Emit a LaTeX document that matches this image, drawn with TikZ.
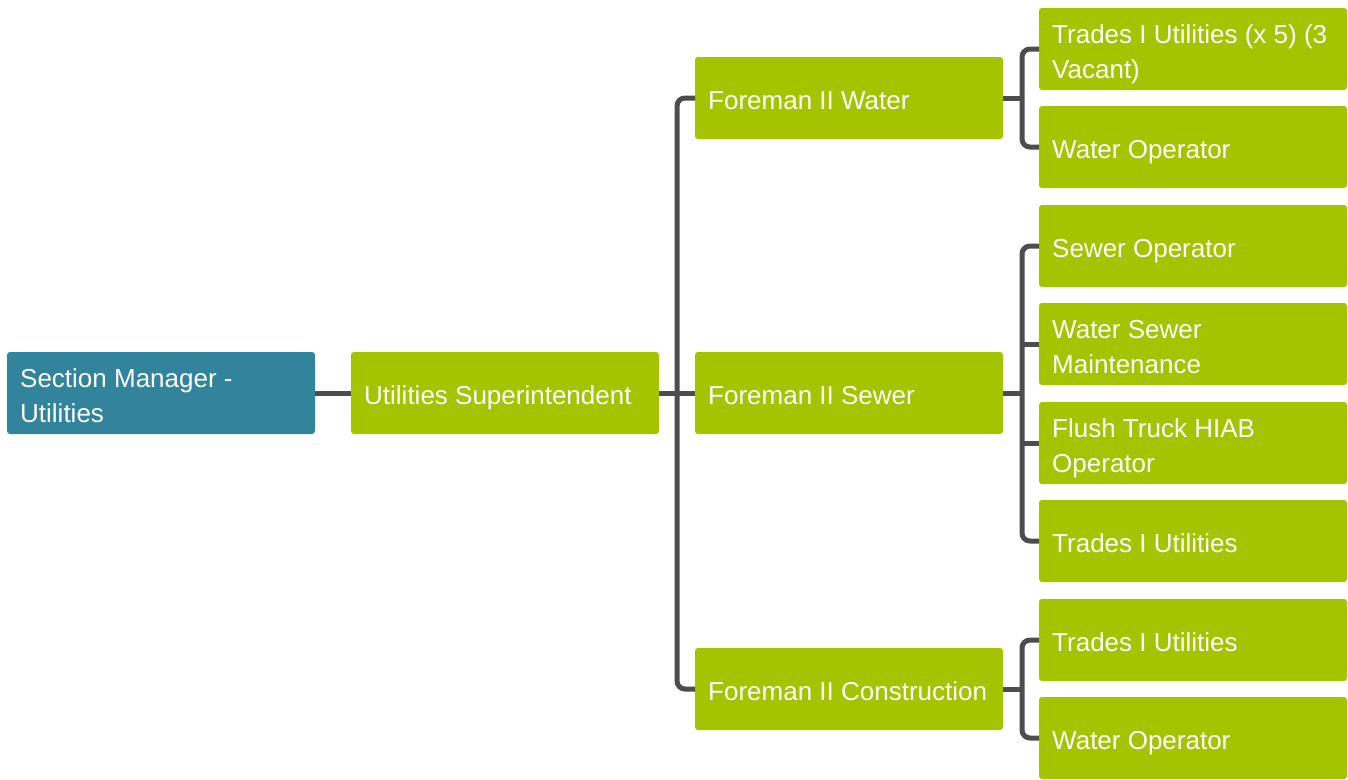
\documentclass[tikz,border=0pt]{standalone}
\usepackage{fontspec}
\setmainfont{Liberation Sans}
\definecolor{teal1}{HTML}{31849B}
\definecolor{green1}{HTML}{A5C400}
\definecolor{conncol}{HTML}{4D4D4D}
\newcommand{\myboxfont}{\fontsize{19.5pt}{26.25pt}\selectfont}
\begin{document}
\begin{tikzpicture}[x=0.75pt,y=-0.75pt,
  box/.style={rectangle, rounded corners=2.25pt, anchor=north west,
    minimum width=231pt, minimum height=61.5pt, inner sep=0pt, outer sep=0pt},
  gbox/.style={box, fill=green1},
  tbox/.style={box, fill=teal1},
  boxtext/.style={anchor=west, inner sep=0pt, outer sep=0pt, xshift=9.9pt, yshift=-1.9pt,
    align=left, text=white, text depth=0pt, font=\myboxfont},
  conn/.style={draw=conncol, line width=3.75pt, rounded corners=6pt}]
\useasboundingbox (0,0) rectangle (1348,779);
% boxes
\node[tbox, label={[boxtext]west:{Section Manager -\\Utilities}}] (sm) at (7,352) {};
\node[gbox, label={[boxtext]west:{Utilities Superintendent}}] (us) at (351,352) {};
\node[gbox, label={[boxtext]west:{Foreman II Water}}] (fw) at (695,57) {};
\node[gbox, label={[boxtext]west:{Foreman II Sewer}}] (fs) at (695,352) {};
\node[gbox, label={[boxtext]west:{Foreman II Construction}}] (fc) at (695,648) {};
\node[gbox, label={[boxtext]west:{Trades I Utilities (x 5) (3\\Vacant)}}] (tu1) at (1039,8) {};
\node[gbox, label={[boxtext]west:{Water Operator}}] (wo1) at (1039,106) {};
\node[gbox, label={[boxtext]west:{Sewer Operator}}] (so) at (1039,205) {};
\node[gbox, label={[boxtext]west:{Water Sewer\\Maintenance}}] (wsm) at (1039,303) {};
\node[gbox, label={[boxtext]west:{Flush Truck HIAB\\Operator}}] (ft) at (1039,402) {};
\node[gbox, label={[boxtext]west:{Trades I Utilities}}] (tu2) at (1039,500) {};
\node[gbox, label={[boxtext]west:{Trades I Utilities}}] (tu3) at (1039,599) {};
\node[gbox, label={[boxtext]west:{Water Operator}}] (wo2) at (1039,697) {};
% connectors
\draw[conn] (sm.east) -- (us.west);
\draw[conn] (us.east) -- (fs.west);
\draw[conn] (fw.west) -- ++(-18,0) |- (fc.west);
\coordinate (wx) at ([xshift=-12.75pt]tu1.west);
\draw[conn] (tu1.west) -- (wx) |- (wo1.west);
\draw[conn] (fw.east) -- (fw.east -| wx);
\coordinate (sx) at ([xshift=-12.75pt]so.west);
\draw[conn] (so.west) -- (sx) |- (tu2.west);
\draw[conn] (fs.east) -- (fs.east -| sx);
\draw[conn] (wsm.west) -- (wsm.west -| sx);
\draw[conn] (ft.west) -- (ft.west -| sx);
\coordinate (cx) at ([xshift=-12.75pt]tu3.west);
\draw[conn] (tu3.west) -- (cx) |- (wo2.west);
\draw[conn] (fc.east) -- (fc.east -| cx);
\end{tikzpicture}
\end{document}
